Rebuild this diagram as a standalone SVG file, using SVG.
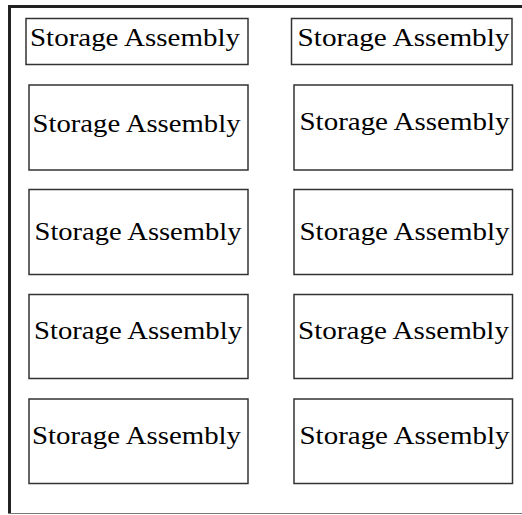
<svg xmlns="http://www.w3.org/2000/svg" width="522" height="515" viewBox="0 0 522 515">
<style>
.box{fill:#fff;stroke:#333;stroke-width:1.5}
.lbl{font-family:"Liberation Serif","DejaVu Serif",serif;font-size:26px;fill:#000}
</style>
<rect width="522" height="515" fill="#fff"/>
<g id="frame">
<line x1="8" y1="6.5" x2="522" y2="6.5" stroke="#222" stroke-width="3"/>
<line x1="9.5" y1="5" x2="9.5" y2="514" stroke="#222" stroke-width="3"/>
<line x1="8" y1="513.5" x2="522" y2="513.5" stroke="#777" stroke-width="1.2"/>
</g>
<g id="n1"><rect class="box" x="26" y="18.5" width="222" height="46"/><text class="lbl" x="30" y="46" textLength="210" lengthAdjust="spacingAndGlyphs">Storage Assembly</text></g>
<g id="n2"><rect class="box" x="291.5" y="18.5" width="220.5" height="46"/><text class="lbl" x="297.5" y="46" textLength="212" lengthAdjust="spacingAndGlyphs">Storage Assembly</text></g>
<g id="n3"><rect class="box" x="29" y="85" width="219" height="85"/><text class="lbl" x="32.5" y="131.5" textLength="208" lengthAdjust="spacingAndGlyphs">Storage Assembly</text></g>
<g id="n4"><rect class="box" x="294" y="85" width="218.5" height="85"/><text class="lbl" x="299.5" y="130" textLength="210" lengthAdjust="spacingAndGlyphs">Storage Assembly</text></g>
<g id="n5"><rect class="box" x="29" y="189.5" width="219" height="85"/><text class="lbl" x="34.5" y="239.5" textLength="207" lengthAdjust="spacingAndGlyphs">Storage Assembly</text></g>
<g id="n6"><rect class="box" x="294" y="189.5" width="218.5" height="85"/><text class="lbl" x="299.5" y="239.5" textLength="210" lengthAdjust="spacingAndGlyphs">Storage Assembly</text></g>
<g id="n7"><rect class="box" x="29" y="294.5" width="219" height="84"/><text class="lbl" x="34" y="338.5" textLength="208" lengthAdjust="spacingAndGlyphs">Storage Assembly</text></g>
<g id="n8"><rect class="box" x="294" y="294.5" width="218.5" height="84"/><text class="lbl" x="298" y="338.5" textLength="211" lengthAdjust="spacingAndGlyphs">Storage Assembly</text></g>
<g id="n9"><rect class="box" x="29" y="399" width="219" height="84.5"/><text class="lbl" x="32" y="443.5" textLength="209" lengthAdjust="spacingAndGlyphs">Storage Assembly</text></g>
<g id="n10"><rect class="box" x="294" y="399" width="218.5" height="84.5"/><text class="lbl" x="299.5" y="443.5" textLength="210" lengthAdjust="spacingAndGlyphs">Storage Assembly</text></g>
<g id="connectors"></g>
</svg>
